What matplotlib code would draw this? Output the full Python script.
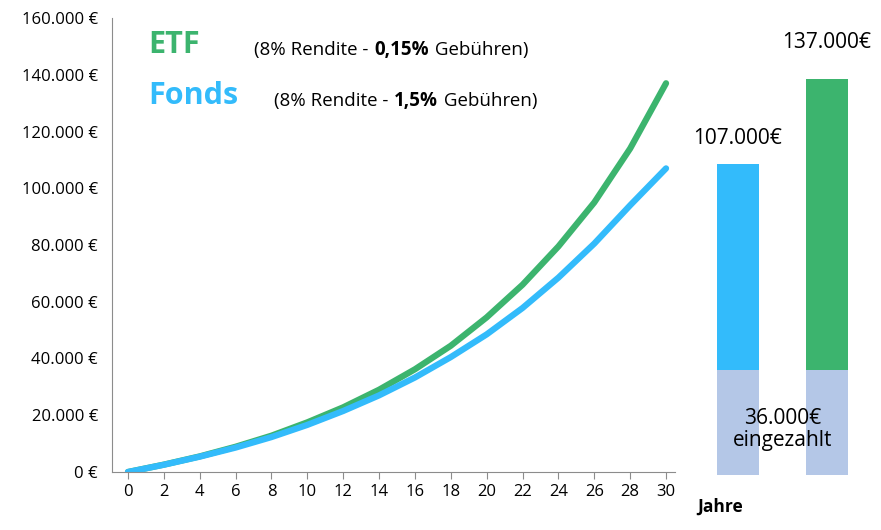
import matplotlib
matplotlib.use("Agg")
import matplotlib.pyplot as plt

plt.rcParams["font.family"] = "Open Sans"

years = list(range(0, 31, 2))
etf = [0, 2600, 5500, 8900, 12800, 17500, 22800, 29000, 36200, 44500,
       54500, 66000, 79500, 95000, 114000, 137000]
fonds = [0, 2550, 5400, 8600, 12300, 16600, 21500, 27000, 33300, 40500,
         48500, 57800, 68500, 80500, 94000, 107000]
paid_in = 36000
yticks = list(range(0, 160001, 20000))

GREEN = "#3cb46e"
BLUE = "#33bbfb"
LIGHT = "#b4c7e7"
GRAY = "#8c8c8c"

W, H = 881, 530
fig = plt.figure(figsize=(W / 100, H / 100), dpi=100)


def px_axes(left, right, top, bottom):
    return fig.add_axes([left / W, (H - bottom) / H, (right - left) / W, (bottom - top) / H])


ax = px_axes(112, 675, 18, 472)
ax.plot(years, etf, color=GREEN, lw=4.5, solid_capstyle="round")
ax.plot(years, fonds, color=BLUE, lw=4.5, solid_capstyle="round")
ax.set_xlim(-0.89, 30.5)
ax.set_ylim(0, 160000)
ax.set_xticks(years)
ax.set_yticks(yticks)
ax.set_yticklabels([f"{v:,.0f} €".replace(",", ".") for v in yticks])
ax.tick_params(labelsize=12, colors="black")
ax.tick_params(axis="x", color=GRAY, length=5)
ax.tick_params(axis="y", length=0, pad=10)
for s in ("top", "right"):
    ax.spines[s].set_visible(False)
for s in ("left", "bottom"):
    ax.spines[s].set_color(GRAY)
fig.text(697 / W, 1 - 507 / H, "Jahre", fontsize=12.5, fontweight="bold",
         va="center", ha="left")


def rich(x, y, parts, color="black"):
    xp = x
    r = fig.canvas.get_renderer()
    for txt, bold in parts:
        tt = fig.text(xp / W, 1 - y / H, txt, fontsize=13.5, color=color,
                      fontweight="bold" if bold else "normal", va="center")
        xp = tt.get_window_extent(r).x1 + 1


fig.text(148 / W, 1 - 45 / H, "ETF", color=GREEN, fontsize=22, fontweight="bold", va="center")
fig.text(148 / W, 1 - 96 / H, "Fonds", color=BLUE, fontsize=22, fontweight="bold", va="center")
rich(254, 50, [("(8% Rendite - ", False), ("0,15%", True), (" Gebühren)", False)])
rich(274, 101, [("(8% Rendite - ", False), ("1,5%", True), (" Gebühren)", False)])

bx = px_axes(700, 870, 18, 472)
bx.set_xlim(0, 1)
bx.set_ylim(0, 160000)
bx.axis("off")
w = 42 / 170
for left, top, col, off in ((17 / 170, fonds[-1], BLUE, 7000), (106 / 170, etf[-1], GREEN, 10500)):
    bx.bar(left, paid_in + 1000, width=w, bottom=-1000, align="edge", color=LIGHT, clip_on=False)
    bx.bar(left, top - paid_in + 1500, width=w, bottom=paid_in, align="edge", color=col, clip_on=False)
    bx.text(left + w / 2, top + off, f"{top:,.0f}€".replace(",", "."),
            ha="center", va="bottom", fontsize=15)
bx.text(83 / 170, 15000, "36.000€\neingezahlt", ha="center", va="center",
        fontsize=15, linespacing=1.1)

fig.savefig("out.png", dpi=100)
